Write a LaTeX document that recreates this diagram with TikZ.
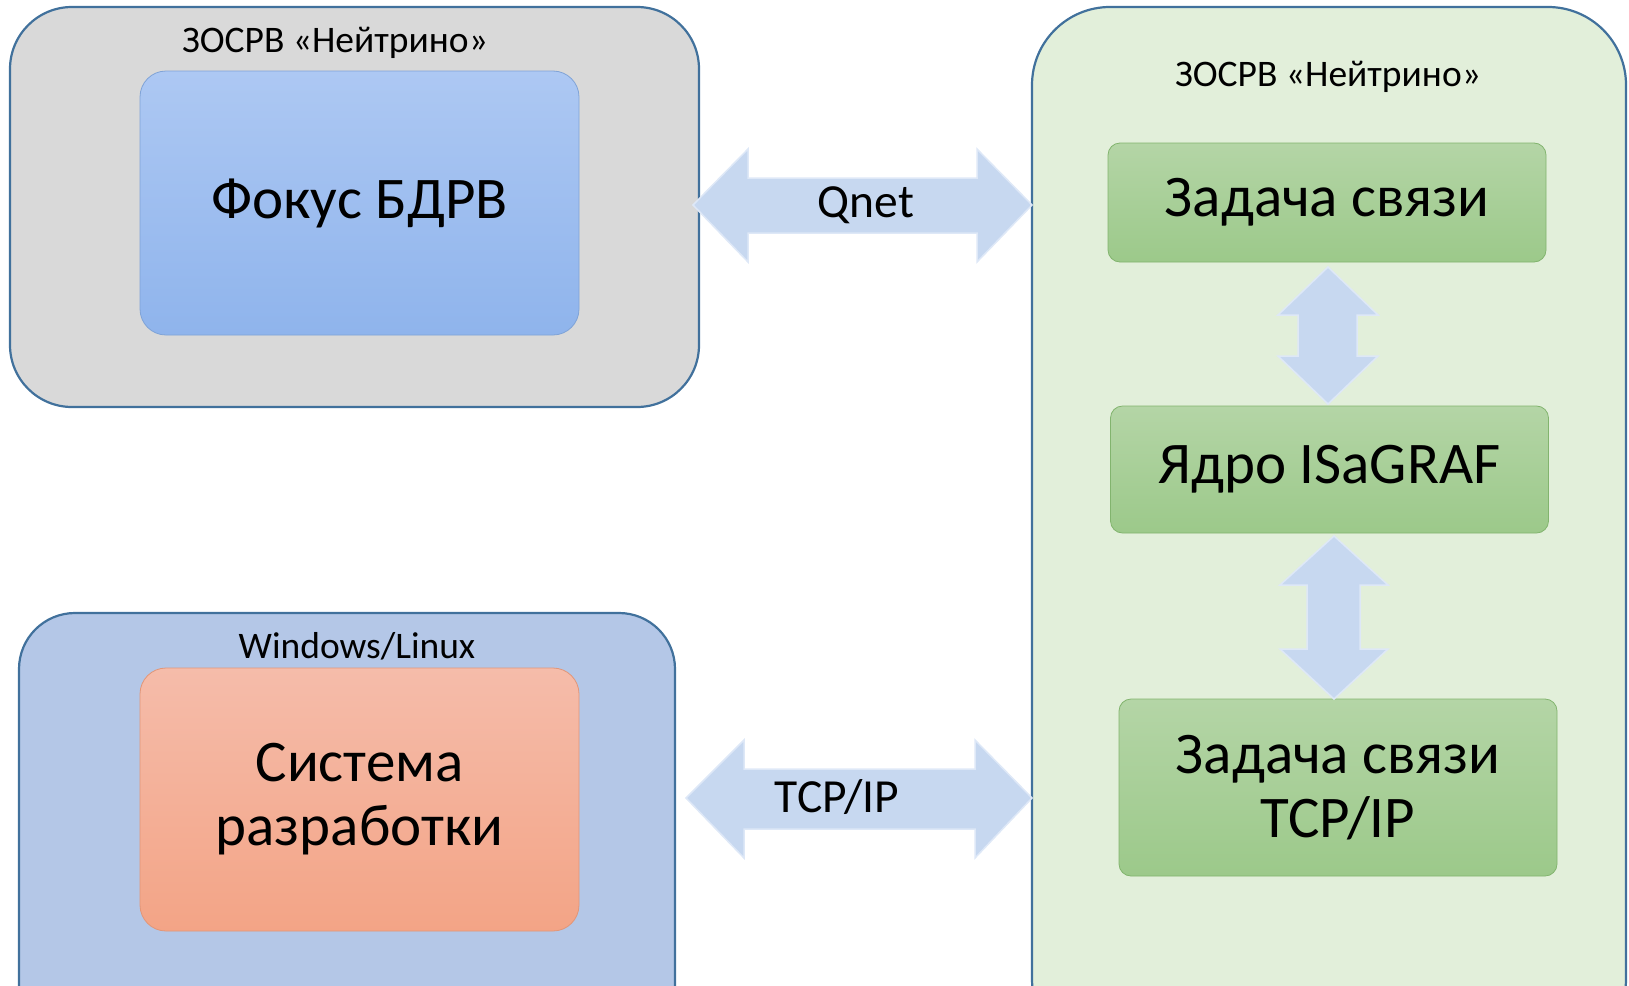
\documentclass[tikz,border=0pt]{standalone}
\usepackage{fontspec}
\setmainfont{Carlito}
\definecolor{frame}{RGB}{65,113,156}
\definecolor{graybg}{RGB}{217,217,217}
\definecolor{bluebg}{RGB}{180,199,231}
\definecolor{greenbg}{RGB}{226,239,218}
\definecolor{bluetop}{RGB}{173,200,243}
\definecolor{bluebot}{RGB}{143,180,236}
\definecolor{blueedge}{RGB}{127,163,215}
\definecolor{orangetop}{RGB}{245,188,170}
\definecolor{orangebot}{RGB}{243,164,134}
\definecolor{orangeedge}{RGB}{226,150,120}
\definecolor{greentop}{RGB}{180,213,166}
\definecolor{greenbot}{RGB}{156,201,138}
\definecolor{greenedge}{RGB}{130,180,110}
\definecolor{arrowfill}{RGB}{199,216,240}
\definecolor{arrowedge}{RGB}{222,232,247}
\begin{document}
\begin{tikzpicture}[x=1pt,y=-1pt,
  container/.style={draw=frame, line width=2.2pt, minimum width=#1, inner sep=0pt},
  innerbox/.style={rounded corners=26pt, line width=0.8pt, inner sep=0pt, align=center,
    font=\fontsize{59}{64}\selectfont},
  greenbox/.style={rounded corners=12pt, line width=0.8pt, draw=greenedge,
    top color=greentop, bottom color=greenbot, inner sep=0pt, align=center,
    font=\fontsize{59}{64}\selectfont, minimum width=438pt},
  lbl/.style={font=\fontsize{37.5}{42}\selectfont, inner sep=0pt},
  arrlbl/.style={font=\fontsize{47.5}{52}\selectfont, inner sep=0pt},
  blockarrow/.style={fill=arrowfill, draw=arrowedge, line width=1.5pt, line join=miter}]
\useasboundingbox (0,0) rectangle (1629,985);
\clip (0,0) rectangle (1629,985);
% containers
\node[container=689pt, minimum height=400pt, fill=graybg, rounded corners=62pt] (c1) at (354.5,207) {};
\node[container=656pt, minimum height=450pt, fill=bluebg, rounded corners=56pt] (c2) at (347,838) {};
\node[container=594pt, minimum height=1050pt, fill=greenbg, rounded corners=78pt] (c3) at (1329,532) {};
% labels
\node[lbl] (l1) at (335,43) {ЗОСРВ «Нейтрино»};
\node[lbl] (l2) at (357,646) {Windows/Linux};
\node[lbl] (l3) at (1328,77) {ЗОСРВ «Нейтрино»};
% inner boxes
\node[innerbox, draw=blueedge, top color=bluetop, bottom color=bluebot,
  minimum width=439pt, minimum height=264pt] (focus) at (359.5,203) {Фокус БДРВ};
\node[innerbox, draw=orangeedge, top color=orangetop, bottom color=orangebot,
  minimum width=439pt, minimum height=263pt] (dev) at (359.5,799.5) {Система\\разработки};
\node[greenbox, minimum height=119pt] (g1) at (1327,202.5) {Задача связи};
\node[greenbox, minimum height=127pt] (g2) at (1329.5,469.5) {Ядро ISaGRAF};
\node[greenbox, minimum height=177pt] (g3) at (1338,787.5) {Задача связи\\TCP/IP};
% block arrows
\draw[blockarrow] (693,205) -- (748,149) -- (748,178) -- (977,178) -- (977,149) -- (1032,205)
  -- (977,262) -- (977,233) -- (748,233) -- (748,262) -- cycle;
\node[arrlbl] (qnet) at (866,205) {Qnet};
\draw[blockarrow] (686,798) -- (744,740) -- (744,769) -- (975,769) -- (975,740) -- (1032,798)
  -- (975,858) -- (975,829) -- (744,829) -- (744,858) -- cycle;
\node[arrlbl] (tcp) at (837,797) {TCP/IP};
\draw[blockarrow] (1328,267) -- (1378,315) -- (1357,315) -- (1357,356) -- (1378,356) -- (1328,404)
  -- (1278,356) -- (1298,356) -- (1298,315) -- (1278,315) -- cycle;
\draw[blockarrow] (1334,536) -- (1388,585) -- (1360,585) -- (1360,649) -- (1388,649) -- (1334,699)
  -- (1280,649) -- (1307,649) -- (1307,585) -- (1280,585) -- cycle;
\end{tikzpicture}
\end{document}
